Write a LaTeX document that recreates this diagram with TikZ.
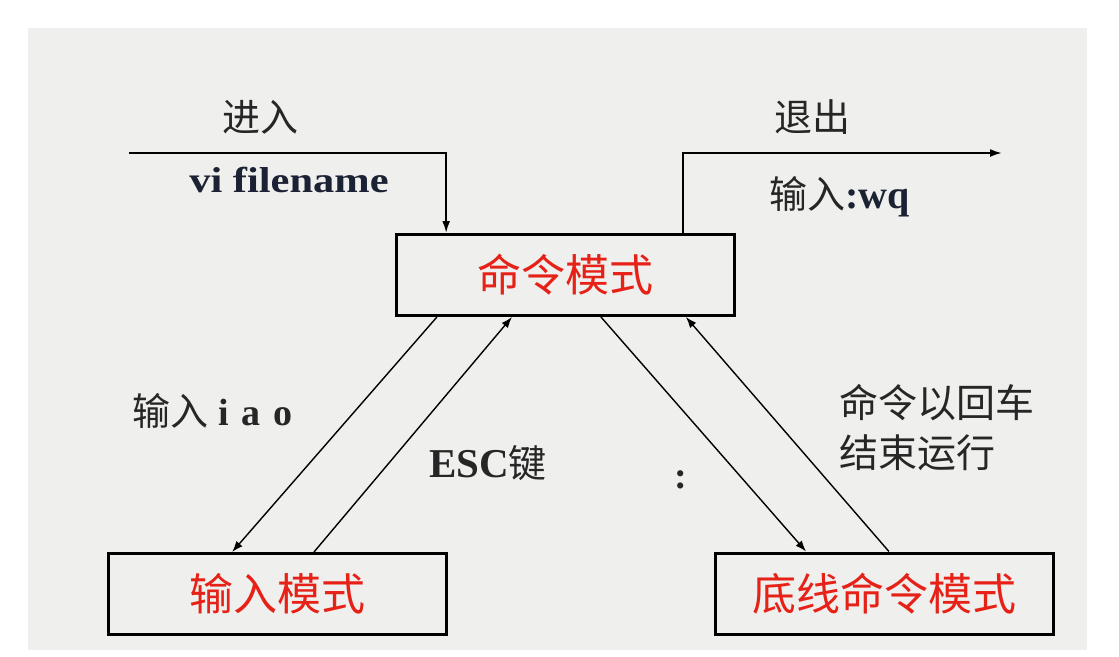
\documentclass[tikz,border=0pt]{standalone}
\usepackage{fontspec}
\setmainfont{Liberation Serif}
\newfontfamily\cjk{Noto Sans CJK SC}
\newfontfamily\wideserif[FakeStretch=1.18]{Liberation Serif}
\usetikzlibrary{calc}
\usetikzlibrary{arrows.meta}
\definecolor{bggray}{HTML}{EFEFED}
\definecolor{modered}{HTML}{E62117}
\definecolor{ink}{HTML}{1B2233}

\begin{document}
\begin{tikzpicture}[x=1pt,y=-1pt,
    mode/.style={draw,line width=3pt,minimum width=338pt,minimum height=81pt,inner sep=0pt,
        text=modered,font=\cjk\fontsize{44}{50}\selectfont},
    flow/.style={line width=1.4pt,-{Latex[length=11pt,width=8pt]}},
    gate/.style={line width=2pt,-{Latex[length=12pt,width=8pt]}},
    note/.style={inner sep=0pt,text=black!85,font=\cjk\fontsize{38}{50}\selectfont}]
    \useasboundingbox (0,0) rectangle (1119,656);
    \fill[white] (0,0) rectangle (1119,656);
    \fill[bggray] (28,28) rectangle (1087,650);
    % the three modes
    \node[mode] (cmd) at (565.5,275) {命令模式};
    \node[mode] (ins) at (277.5,594) {输入模式};
    \node[mode] (bot) at (884.5,593.5) {底线命令模式};
    % enter and leave
    \coordinate (start) at (129,153);
    \coordinate (stop) at (1002,153);
    \draw[gate] (start) -| ($(cmd.north west)!0.15!(cmd.north east)$);
    \draw[gate] ($(cmd.north west)!0.845!(cmd.north east)$) |- (stop);
    \node[note] (enter) at (260,117) {进入};
    \node[inner sep=0pt,text=ink,font=\wideserif\bfseries\fontsize{36}{40}\selectfont] (vi) at (289,180) {vi filename};
    \node[note] (leave) at (812,117) {退出};
    \node[note,anchor=base west] (wq) at (769,208) {输入\textcolor{ink}{\rmfamily\bfseries\fontsize{40}{40}\selectfont:wq}};
    % command <-> input
    \draw[flow] ($(cmd.south west)!0.123!(cmd.south east)$) -- ($(ins.north west)!0.367!(ins.north east)$);
    \draw[flow] ($(ins.north west)!0.607!(ins.north east)$) -- ($(cmd.south west)!0.343!(cmd.south east)$);
    \node[note,anchor=base west] (iao) at (132,425) {输入\hspace{10pt}{\rmfamily\bfseries i\hspace{13pt}a\hspace{13pt}o}};
    \node[note,anchor=base west] (esc) at (429,477) {{\rmfamily\bfseries\fontsize{41}{41}\selectfont ESC}键};
    % command <-> bottom line
    \draw[flow] ($(cmd.south west)!0.604!(cmd.south east)$) -- ($(bot.north west)!0.27!(bot.north east)$);
    \draw[flow] ($(bot.north west)!0.513!(bot.north east)$) -- ($(cmd.south west)!0.853!(cmd.south east)$);
    \node[note,font=\rmfamily\bfseries\fontsize{38}{40}\selectfont] (colon) at (681,480) {:};
    \node[note,anchor=north west,align=left,font=\cjk\fontsize{39}{50}\selectfont] (run) at (839,384) {命令以回车\\结束运行};
\end{tikzpicture}
\end{document}
